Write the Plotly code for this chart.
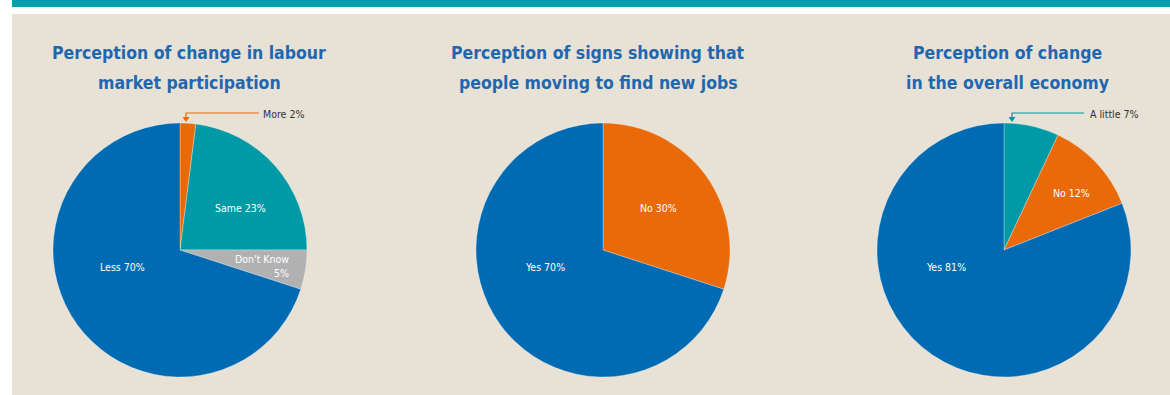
import plotly.graph_objects as go

W, H = 1170, 395

# Data
titles = [
    "Perception of change in labour<br>market participation",
    "Perception of signs showing that<br>people moving to find new jobs",
    "Perception of change<br>in the overall economy",
]
labels1 = ["More", "Same", "Don't Know", "Less"]
values1 = [2, 23, 5, 70]
labels2 = ["No", "Yes"]
values2 = [30, 70]
labels3 = ["A little", "No", "Yes"]
values3 = [7, 12, 81]

BLUE = "#006ab3"
TEAL = "#009aa6"
ORANGE = "#ea6a0a"
GREY = "#b1b1b1"
BEIGE = "#e7e2d5"
TITLE = "#1f67b0"

colors1 = [ORANGE, TEAL, GREY, BLUE]
colors2 = [ORANGE, BLUE]
colors3 = [TEAL, ORANGE, BLUE]

centers = [(180, 250), (603, 250), (1004, 250)]
R = 127


def px(x, y):
    return x / W, 1 - y / H


def dom(cx, cy, r):
    return dict(x=[(cx - r) / W, (cx + r) / W], y=[1 - (cy + r) / H, 1 - (cy - r) / H])


fig = go.Figure()
for (labs, vals, cols), (cx, cy) in zip(
    [(labels1, values1, colors1), (labels2, values2, colors2), (labels3, values3, colors3)], centers
):
    fig.add_trace(go.Pie(
        labels=labs, values=vals, sort=False, direction="clockwise", rotation=0,
        marker=dict(colors=cols, line=dict(color="rgba(255,255,255,0.5)", width=0.6)),
        textinfo="none", hoverinfo="label+percent", showlegend=False,
        domain=dom(cx, cy, R),
    ))

FONT = "DejaVu Sans Condensed, sans-serif"

annotations = []
title_x = [189, 598, 1007]
for t, tx in zip(titles, title_x):
    for line, ty in zip(t.split("<br>"), (53, 83)):
        x, y = px(tx, ty)
        annotations.append(dict(x=x, y=y, xref="paper", yref="paper", text="<b>" + line + "</b>",
                                showarrow=False, font=dict(family=FONT, size=17.5, color=TITLE),
                                xanchor="center", yanchor="middle", align="center"))

LS = 10.5
# in-slice labels (white)
inner = [
    (labels1[1], values1[1], 240, 208),
    (labels1[3], values1[3], 122, 267),
    (labels2[0], values2[0], 658, 208),
    (labels2[1], values2[1], 545, 267),
    (labels3[1], values3[1], 1071, 193),
    (labels3[2], values3[2], 946, 267),
]
for lab, v, x0, y0 in inner:
    x, y = px(x0, y0)
    annotations.append(dict(x=x, y=y, xref="paper", yref="paper", text=f"{lab} {v}%",
                            showarrow=False, font=dict(family=FONT, size=LS, color="white"),
                            xanchor="center", yanchor="middle"))
# Don't know two-line right aligned
x, y = px(291, 266)
annotations.append(dict(x=x, y=y, xref="paper", yref="paper", text=f"{labels1[2]}<br>{values1[2]}%",
                        showarrow=False, font=dict(family=FONT, size=LS, color="white"),
                        xanchor="right", yanchor="middle", align="right"))

# callout labels
for lab, v, x0 in [(labels1[0], values1[0], 261), (labels3[0], values3[0], 1088)]:
    x, y = px(x0, 114)
    annotations.append(dict(x=x, y=y, xref="paper", yref="paper", text=f"{lab} {v}%",
                            showarrow=False, font=dict(family=FONT, size=LS, color="#333333"),
                            xanchor="left", yanchor="middle"))

shapes = [
    dict(type="rect", xref="paper", yref="paper", x0=12 / W, x1=1, y0=1 - 7 / H, y1=1,
         fillcolor="#00a1ad", line=dict(width=0), layer="below"),
    dict(type="rect", xref="paper", yref="paper", x0=12 / W, x1=1, y0=0, y1=1 - 14 / H,
         fillcolor=BEIGE, line=dict(width=0), layer="below"),
]


def callout(x_text, x_arrow, color):
    xa, ya = px(x_text, 113)
    xb, yb = px(x_arrow, 113)
    xc, yc = px(x_arrow, 118)
    shapes.append(dict(type="path", xref="paper", yref="paper",
                       path=f"M {xa} {ya} L {xb} {yb} L {xc} {yc}",
                       line=dict(color=color, width=1.2)))
    p1 = px(x_arrow - 3.5, 117)
    p2 = px(x_arrow + 3.5, 117)
    p3 = px(x_arrow, 122)
    shapes.append(dict(type="path", xref="paper", yref="paper",
                       path=f"M {p1[0]} {p1[1]} L {p2[0]} {p2[1]} L {p3[0]} {p3[1]} Z",
                       fillcolor=color, line=dict(width=0)))


callout(259, 186, ORANGE)
callout(1084, 1012, TEAL)

fig.update_layout(
    width=W, height=H, margin=dict(l=0, r=0, t=0, b=0),
    paper_bgcolor="white", plot_bgcolor="white",
    annotations=annotations, shapes=shapes,
)

fig.write_html("out.html")
